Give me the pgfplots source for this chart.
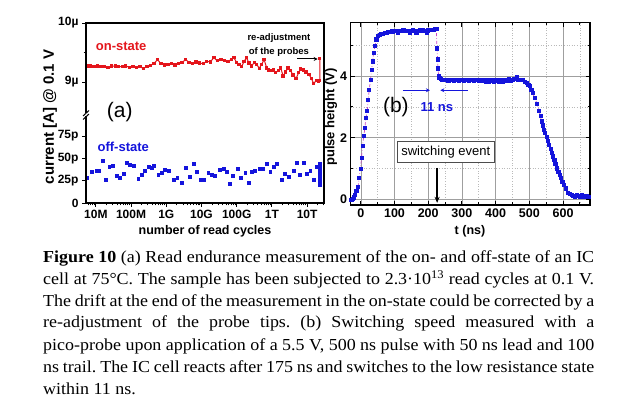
\documentclass[border=0pt]{standalone}
\usepackage{pgfplots}
\pgfplotsset{compat=1.18}
\usepackage{fontspec}
\setmainfont{Liberation Serif}[FakeStretch=1.07]
\newfontfamily\cf{Liberation Sans}
\usetikzlibrary{arrows.meta}
\frenchspacing
\definecolor{onred}{RGB}{228,22,28}
\definecolor{offblue}{RGB}{20,20,220}
\definecolor{pinkl}{RGB}{200,70,200}
\pgfplotstableread{
L v
6.75 9.27
6.85 9.27
6.95 9.26
7.05 9.27
7.15 9.26
7.25 9.26
7.35 9.25
7.45 9.27
7.55 9.27
7.65 9.26
7.75 9.26
7.85 9.27
7.95 9.25
8.05 9.26
8.15 9.25
8.25 9.26
8.35 9.23
8.45 9.26
8.55 9.28
8.65 9.31
8.75 9.38
8.85 9.31
8.95 9.29
9.05 9.30
9.15 9.31
9.25 9.29
9.35 9.31
9.45 9.33
9.55 9.38
9.65 9.33
9.75 9.31
9.85 9.34
9.95 9.32
10.05 9.31
10.15 9.35
10.25 9.34
10.35 9.41
10.45 9.36
10.55 9.38
10.65 9.36
10.75 9.35
10.85 9.38
10.92 9.41
11.00 9.33
11.07 9.30
11.14 9.26
11.21 9.35
11.28 9.41
11.35 9.32
11.42 9.27
11.50 9.33
11.57 9.30
11.64 9.23
11.71 9.30
11.78 9.38
11.85 9.24
11.90 9.20
11.97 9.19
12.04 9.20
12.11 9.16
12.18 9.19
12.25 9.24
12.32 9.10
12.39 9.17
12.46 9.24
12.53 9.19
12.60 9.12
12.69 9.06
12.76 9.16
12.82 9.22
12.90 9.20
12.97 9.17
13.05 9.13
13.12 9.06
13.19 8.97
13.26 9.03
13.32 9.01
13.36 9.03
13.36 9.40
}\onstate
\pgfplotstableread{
L p
6.735 28.7
6.877 35.1
7.02 35.8
7.095 35.8
7.19 47.4
7.28 25.8
7.38 40.7
7.47 41.4
7.59 30.2
7.68 28.7
7.78 32.5
7.87 45.2
7.97 42.6
8.08 41.8
8.20 27.2
8.30 31.4
8.39 36.2
8.49 40.7
8.58 39.6
8.65 41.4
8.77 31.4
8.87 34.0
8.96 37.7
9.06 35.8
9.22 25.8
9.31 28.7
9.44 23.1
9.56 39.9
9.67 29.5
9.77 43.7
9.86 35.1
9.98 26.5
10.07 25.8
10.19 34.0
10.29 31.4
10.38 30.2
10.51 37.0
10.62 38.8
10.72 35.1
10.81 21.3
10.89 30.2
11.02 38.1
11.11 28.7
11.24 34.0
11.33 22.8
11.43 35.1
11.52 35.8
11.64 38.8
11.74 38.8
11.85 43.7
11.95 35.1
12.04 40.2
12.14 43.7
12.28 26.5
12.37 33.2
12.47 29.5
12.61 35.8
12.71 45.2
12.80 31.4
12.90 45.2
12.99 33.2
13.09 36.2
13.18 25.8
13.27 40.7
13.35 20
13.35 24
13.35 28
13.35 32
13.35 36
13.35 40
13.35 44
}\offstate
\pgfplotstableread{
t V
-28 -0.02
-24 0.02
-21 0.07
-17 0.15
-13 0.29
-8 0.42
-5 0.69
-1 0.98
2 1.34
5 1.74
9 2.07
12 2.31
15 2.64
19 2.86
22 3.24
25 3.56
29 3.89
32 4.21
35 4.48
38 4.75
42 4.97
46 5.19
51 5.30
56 5.34
61 5.36
66 5.37
71 5.40
76 5.41
81 5.43
86 5.44
91 5.45
96 5.45
101 5.46
106 5.47
111 5.41
116 5.47
121 5.46
126 5.48
131 5.47
136 5.47
141 5.46
145 5.41
150 5.47
155 5.48
160 5.47
165 5.40
170 5.47
175 5.48
180 5.47
185 5.48
190 5.46
195 5.41
200 5.48
205 5.50
210 5.49
215 5.50
220 5.52
224 5.53
226 4.90
228 4.54
229 4.25
231 3.99
233 3.93
237 3.90
240 3.88
245 3.87
250 3.87
255 3.87
260 3.86
265 3.87
270 3.87
275 3.86
280 3.87
285 3.87
290 3.86
295 3.87
300 3.87
305 3.86
310 3.87
315 3.87
320 3.86
325 3.87
330 3.87
335 3.86
340 3.87
345 3.87
350 3.86
355 3.87
360 3.86
365 3.87
370 3.83
375 3.87
380 3.83
385 3.86
390 3.87
395 3.83
400 3.86
405 3.87
410 3.83
415 3.86
420 3.83
425 3.86
430 3.87
435 3.86
440 3.90
445 3.86
450 3.87
455 3.90
462 3.96
467 3.88
472 3.87
477 3.88
481 3.87
487 3.82
492 3.78
497 3.72
502 3.67
506 3.56
510 3.45
516 3.29
523 3.10
529 2.86
533 2.70
536 2.53
540 2.40
543 2.26
547 2.15
551 2.04
555 1.90
559 1.77
563 1.63
566 1.50
570 1.40
574 1.28
577 1.15
581 1.01
586 0.90
590 0.80
594 0.70
598 0.58
603 0.47
608 0.36
615 0.22
620 0.18
625 0.15
630 0.12
635 0.10
640 0.14
645 0.11
650 0.09
655 0.13
660 0.10
665 0.08
670 0.12
675 0.09
}\pulse
\begin{document}
\begin{tikzpicture}[x=1pt,y=1pt]
\path[use as bounding box] (0,0) rectangle (640,415);
\fill[white] (0,0) rectangle (640,415);

% ---------- panel (a), upper part (on-state)
\begin{axis}[
  at={(86pt,300pt)}, anchor=south west, scale only axis,
  width=238pt, height=92pt,
  xmin=6.72, xmax=13.48, ymin=8.44, ymax=10,
  axis line style={draw=none},
  xtick=\empty,
  ytick={9,10}, yticklabels={9µ,10µ}, minor ytick={9.5},
  ytick pos=left, tick align=outside,
  major tick length=4pt, minor tick length=2.5pt,
  every tick/.style={black, line width=0.9pt},
  yticklabel style={font=\cf\bfseries\fontsize{12}{13}\selectfont},
  clip=false,
]
\addplot[onred, line width=1pt, mark=square*, mark size=1.2pt] table[x=L,y=v] {\onstate};
\node[anchor=west, font=\cf\bfseries\fontsize{13}{14}\selectfont, text=onred] at (axis cs:6.9,9.61) {on-state};
\node[align=center, font=\cf\bfseries\fontsize{9.5}{14}\selectfont] at (axis cs:12.2,9.63) {re-adjustment\\of the probes};
\draw[line width=1pt, -{Stealth[length=4pt,width=4pt]}] (axis cs:12.72,9.39) -- (axis cs:13.3,9.39);
\node[font=\cf\fontsize{21}{24}\selectfont] at (axis cs:7.68,8.49) {(a)};
\end{axis}

% ---------- panel (a), lower part (off-state)
\begin{axis}[
  at={(86pt,212pt)}, anchor=south west, scale only axis,
  width=238pt, height=88pt,
  xmin=6.72, xmax=13.48, ymin=0, ymax=98.5,
  axis line style={draw=none},
  xtick={7,8,9,10,11,12,13},
  xticklabels={10M,100M,1G,10G,100G,1T,10T},
  minor xtick={6.778,6.845,6.903,6.954,
    7.301,7.477,7.602,7.699,7.778,7.845,7.903,7.954,
    8.301,8.477,8.602,8.699,8.778,8.845,8.903,8.954,
    9.301,9.477,9.602,9.699,9.778,9.845,9.903,9.954,
    10.301,10.477,10.602,10.699,10.778,10.845,10.903,10.954,
    11.301,11.477,11.602,11.699,11.778,11.845,11.903,11.954,
    12.301,12.477,12.602,12.699,12.778,12.845,12.903,12.954,
    13.301,13.477},
  ytick={0,25,50,75}, yticklabels={0,25p,50p,75p},
  xtick pos=bottom, ytick pos=left, tick align=outside,
  major tick length=4pt, minor tick length=2.5pt,
  every tick/.style={black, line width=0.9pt},
  ticklabel style={font=\cf\bfseries\fontsize{12}{13}\selectfont},
  clip=false,
]
\addplot[only marks, offblue, mark=square*, mark size=1.4pt] table[x=L,y=p] {\offstate};
\node[anchor=west, font=\cf\bfseries\fontsize{13}{14}\selectfont, text=offblue] at (axis cs:6.95,62.7) {off-state};
\end{axis}

% box of panel (a) with break on the left
\draw[line width=1.4pt] (86,300) -- (86,392) -- (324,392) -- (324,212) -- (86,212) -- cycle;
\fill[white] (84,298.5) rectangle (88,301.5);
\draw[line width=1pt] (83,295.5) -- (89,301);
\draw[line width=1pt] (83,299) -- (89,304.5);

\node[rotate=90, font=\cf\bfseries\fontsize{15}{16}\selectfont] at (50,298) {current [A] @ 0.1 V};
\node[font=\cf\bfseries\fontsize{12.5}{14}\selectfont] at (205,184) {number of read cycles};

% ---------- panel (b)
\begin{axis}[
  at={(350.7pt,210pt)}, anchor=south west, scale only axis,
  width=239.3pt, height=182.3pt,
  xmin=-30, xmax=680, ymin=-0.18, ymax=5.73,
  xtick={0,100,200,300,400,500,600},
  xticklabels={0,100,200,300,400,500,600},
  minor xtick={50,150,250,350,450,550,650},
  ytick={0,2,4}, yticklabels={0,2,4}, minor ytick={1,3,5},
  grid=both,
  major grid style={draw=gray!75, line width=0.6pt, solid},
  minor grid style={draw=gray!55, line width=0.6pt, dotted},
  axis line style={line width=1.4pt},
  tick align=inside,
  major tick length=4pt, minor tick length=2.5pt,
  every tick/.style={black, line width=0.9pt},
  ticklabel style={font=\cf\bfseries\fontsize{12.5}{14}\selectfont},
  clip=false,
]
\addplot[pinkl, line width=0.7pt, dash dot, mark=square*, mark size=1.6pt, mark options={solid, offblue}] table[x=t,y=V] {\pulse};
\draw[offblue, line width=1pt, -{Stealth[length=4pt,width=4pt]}] (axis cs:125,3.54) -- (axis cs:205,3.54);
\draw[offblue, line width=1pt, -{Stealth[length=4pt,width=4pt]}] (axis cs:318,3.54) -- (axis cs:236,3.54);
\node[font=\cf\bfseries\fontsize{13}{14}\selectfont, text=offblue] at (axis cs:225.5,3.0) {11 ns};
\node[font=\cf\fontsize{21}{24}\selectfont] at (axis cs:104,2.98) {(b)};
\node[draw=black!70, fill=white, line width=0.8pt, inner xsep=4pt, minimum height=21pt, font=\cf\fontsize{13}{14}\selectfont] at (axis cs:252,1.53) {switching event};
\draw[line width=1.6pt, -{Stealth[length=6pt,width=5pt]}] (axis cs:226.4,1.02) -- (axis cs:226.4,-0.11);
\end{axis}
\node[rotate=90, font=\cf\bfseries\fontsize{13}{14}\selectfont] at (331,298) {pulse height (V)};
\node[font=\cf\bfseries\fontsize{12.5}{14}\selectfont] at (470,184) {t (ns)};

% ---------- caption
\begin{scope}[every node/.style={anchor=base west, inner sep=0pt}]
\node at (43,152) {\fontsize{16.8}{22}\selectfont\makebox[551pt][s]{\textbf{Figure 10} (a) Read endurance measurement of the on- and off-state of an IC}};
\node at (43,130) {\fontsize{16.8}{22}\selectfont\makebox[551pt][s]{cell at 75°C. The sample has been subjected to 2.3·10\textsuperscript{13} read cycles at 0.1 V.}};
\node at (43,108.5) {\fontsize{16.8}{22}\selectfont\makebox[551pt][s]{The drift at the end of the measurement in the on-state could be corrected by a}};
\node at (43,87) {\fontsize{16.8}{22}\selectfont\makebox[551pt][s]{re-adjustment of the probe tips. (b) Switching speed measured with a}};
\node at (43,64.5) {\fontsize{16.8}{22}\selectfont\makebox[551pt][s]{pico-probe upon application of a 5.5 V, 500 ns pulse with 50 ns lead and 100}};
\node at (43,42.5) {\fontsize{16.8}{22}\selectfont\makebox[551pt][s]{ns trail. The IC cell reacts after 175 ns and switches to the low resistance state}};
\node at (43,20) {\fontsize{16.8}{22}\selectfont within 11 ns.};
\end{scope}
\end{tikzpicture}
\end{document}
